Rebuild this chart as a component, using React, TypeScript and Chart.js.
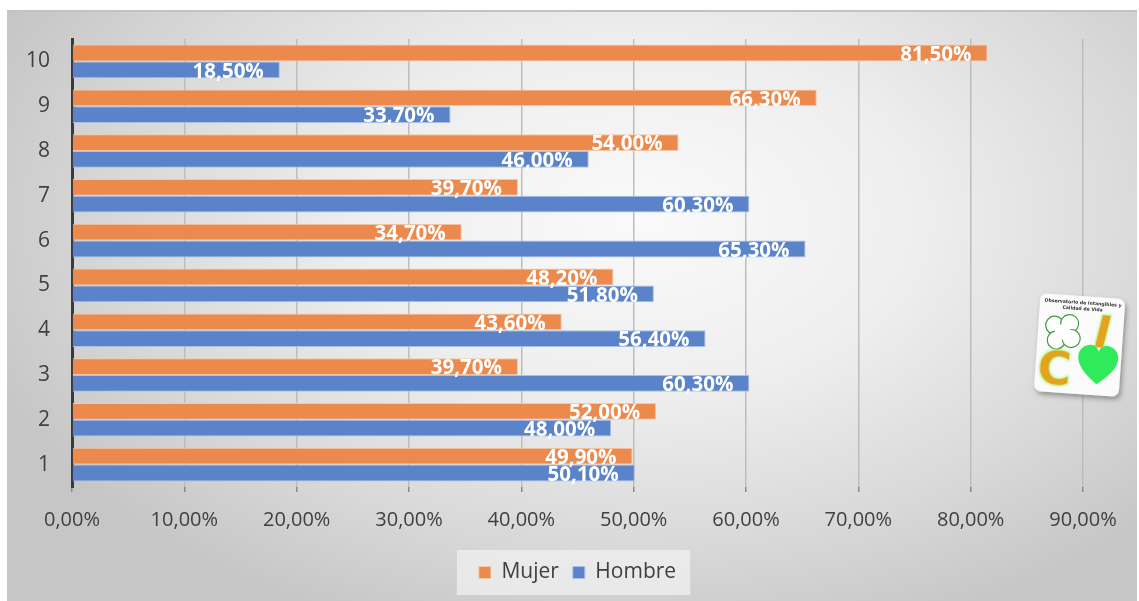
import React, { useEffect, useRef } from "react";
import { Chart, registerables } from "chart.js";

Chart.register(...registerables);

// Categories from top (10) to bottom (1)
const categories = ["10", "9", "8", "7", "6", "5", "4", "3", "2", "1"];
const mujer = [81.5, 66.3, 54.0, 39.7, 34.7, 48.2, 43.6, 39.7, 52.0, 49.9];
const hombre = [18.5, 33.7, 46.0, 60.3, 65.3, 51.8, 56.4, 60.3, 48.0, 50.1];
const seriesNames = ["Mujer", "Hombre"];
const axisMax = 90;
const axisStep = 10;

const fmtPct = (v: number) => v.toFixed(2).replace(".", ",") + "%";

const FONT = "'Open Sans', 'DejaVu Sans', sans-serif";

// White bold value labels placed just inside the end of each bar
const valueLabels = {
  id: "valueLabels",
  afterDatasetsDraw(chart: any) {
    const ctx = chart.ctx;
    ctx.save();
    ctx.font = `bold 20.5px ${FONT}`;
    ctx.fillStyle = "#ffffff";
    ctx.textAlign = "right";
    ctx.textBaseline = "middle";
    chart.data.datasets.forEach((ds: any, i: number) => {
      const meta = chart.getDatasetMeta(i);
      meta.data.forEach((bar: any, j: number) => {
        ctx.fillText(fmtPct(ds.data[j]), bar.x - 16, bar.y + 2);
      });
    });
    ctx.restore();
  },
};

// Soft panel behind the legend entries
const legendPanel = {
  id: "legendPanel",
  beforeDraw(chart: any) {
    const hits = chart.legend && chart.legend.legendHitBoxes;
    if (!hits || !hits.length) return;
    const first = hits[0];
    const last = hits[hits.length - 1];
    const left = first.left - 22;
    const right = last.left + last.width + 14;
    const top = first.top - 12;
    const bottom = first.top + first.height + 12;
    const ctx = chart.ctx;
    ctx.save();
    ctx.fillStyle = "rgba(240,240,240,0.75)";
    ctx.fillRect(left, top, right - left, bottom - top);
    ctx.restore();
  },
};

function Logo() {
  return (
    <svg
      width={1139}
      height={601}
      style={{ position: "absolute", left: 0, top: 0, pointerEvents: "none" }}
    >
      <defs>
        <filter id="tileShadow" x="-30%" y="-30%" width="160%" height="160%">
          <feDropShadow dx="2" dy="3" stdDeviation="2.5" floodColor="#555" floodOpacity="0.55" />
        </filter>
        <filter id="glow" x="-40%" y="-40%" width="180%" height="180%">
          <feMorphology operator="dilate" radius="0.8" in="SourceAlpha" result="d" />
          <feFlood floodColor="#9CFF8A" floodOpacity="0.8" />
          <feComposite in2="d" operator="in" result="g" />
          <feGaussianBlur in="g" stdDeviation="0.8" result="gb" />
          <feMerge>
            <feMergeNode in="gb" />
            <feMergeNode in="SourceGraphic" />
          </feMerge>
        </filter>
      </defs>
      <g transform="translate(1079 346) rotate(4)">
        <rect x={-42} y={-50} width={85} height={98} rx={7} fill="#fbfbfb" filter="url(#tileShadow)" />
        <text x={1} y={-42} fontSize={4.6} fontWeight="bold" textAnchor="middle" fill="#333" fontFamily="'DejaVu Sans', sans-serif">
          Observatorio de Intangibles y
        </text>
        <text x={1} y={-36} fontSize={4.6} fontWeight="bold" textAnchor="middle" fill="#333" fontFamily="'DejaVu Sans', sans-serif">
          Calidad de Vida
        </text>
        {/* four-leaf clover outline */}
        <g transform="translate(-17 -13) rotate(-10)" fill="#ffffff" stroke="#3c9a3c" strokeWidth={1.2}>
          <circle cx={-7.5} cy={-7.5} r={9} />
          <circle cx={7.5} cy={-7.5} r={9} />
          <circle cx={-7.5} cy={7.5} r={9} />
          <circle cx={7.5} cy={7.5} r={9} />
          <circle cx={0} cy={0} r={8} stroke="none" />
        </g>
        <g transform="translate(20 0) skewX(-10)">
          <text x={0} y={0} fontSize={44} fontWeight="bold" textAnchor="middle" fill="#E3A41C" fontFamily="'DejaVu Sans', sans-serif" filter="url(#glow)">
            I
          </text>
        </g>
        <text x={-23} y={40} fontSize={46} fontWeight="bold" textAnchor="middle" fill="#E3A41C" fontFamily="'DejaVu Sans', sans-serif" filter="url(#glow)">
          C
        </text>
        {/* heart */}
        <path
          d="M 21 40 C 8 30, 1 22, 1 13 C 1 5, 8 1, 13 1 C 17 1, 20 4, 21 7 C 22 4, 25 1, 29 1 C 34 1, 41 5, 41 13 C 41 22, 34 30, 21 40 Z"
          fill="#2FEA5A"
          transform="translate(-1 -3)"
        />
      </g>
    </svg>
  );
}

export default function App() {
  const canvasRef = useRef<HTMLCanvasElement | null>(null);

  useEffect(() => {
    if (!canvasRef.current) return;
    const chart = new Chart(canvasRef.current, {
      type: "bar",
      data: {
        labels: categories,
        datasets: [
          {
            label: seriesNames[0],
            data: mujer,
            backgroundColor: "#EC8A4D",
            borderColor: "#F7C6A4",
            borderWidth: 1,
            categoryPercentage: 0.75,
            barPercentage: 1,
          },
          {
            label: seriesNames[1],
            data: hombre,
            backgroundColor: "#5B83C9",
            borderColor: "#A8BFE6",
            borderWidth: 1,
            categoryPercentage: 0.75,
            barPercentage: 1,
          },
        ],
      },
      options: {
        indexAxis: "y",
        responsive: false,
        animation: false,
        layout: { padding: { left: 0, right: 56, top: 39, bottom: 8 } },
        scales: {
          x: {
            min: 0,
            max: axisMax,
            ticks: {
              stepSize: axisStep,
              color: "#404040",
              font: { family: FONT, size: 20 },
              padding: 16,
              callback: (v: any) => fmtPct(Number(v)),
            },
            grid: {
              color: "#bdbdbd",
              lineWidth: 1.5,
              tickLength: 5,
              tickColor: "#8a8a8a",
            },
            border: { display: false },
            afterFit: (scale: any) => {
              scale.height = 61;
            },
          },
          y: {
            ticks: {
              color: "#404040",
              font: { family: FONT, size: 21 },
              padding: 22,
            },
            grid: { display: false, drawTicks: false },
            border: { display: true, color: "#3a3a3a", width: 3 },
            afterFit: (scale: any) => {
              scale.width = 72;
            },
          },
        },
        plugins: {
          legend: {
            position: "bottom",
            fullSize: false,
            labels: {
              color: "#404040",
              font: { family: FONT, size: 21 },
              boxWidth: 12,
              boxHeight: 12,
              padding: 14,
            },
          },
          tooltip: { enabled: false },
        },
      },
      plugins: [valueLabels, legendPanel],
    } as any);
    return () => chart.destroy();
  }, []);

  return (
    <div style={{ position: "fixed", left: 0, top: 0, width: 1139, height: 601, background: "#ffffff", overflow: "hidden" }}>
      <div
        style={{
          position: "absolute",
          left: 7,
          top: 10,
          width: 1130,
          height: 591,
          borderTop: "2px solid #c2c2c2",
          boxSizing: "border-box",
          background:
            "radial-gradient(ellipse 62% 75% at 56% 35%, #fafafa 0%, #eeeeee 40%, #d8d8d8 75%, #c6c6c6 100%)",
        }}
      />
      <canvas ref={canvasRef} width={1139} height={601} style={{ position: "absolute", left: 0, top: 0 }} />
      <Logo />
    </div>
  );
}
